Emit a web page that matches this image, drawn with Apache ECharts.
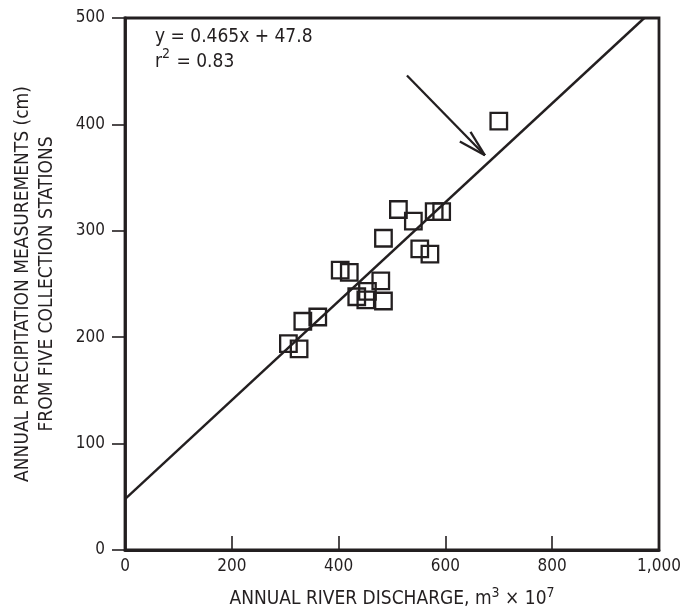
<!DOCTYPE html>
<html>
<head>
<meta charset="utf-8">
<script src="https://cdn.jsdelivr.net/npm/echarts@6/dist/echarts.min.js"></script>
<style>
html,body{margin:0;padding:0;background:#fff;}
#chart{width:695px;height:615px;}
</style>
</head>
<body>
<div id="chart"></div>
<script>
// Observations: annual river discharge (m^3 x 10^7) vs annual precipitation (cm)
const discharge = [512, 540, 579, 593, 484, 552, 571, 403, 420, 479, 454, 434, 451, 484, 361, 333, 306, 326, 700];
const precipitation = [320, 309, 318, 318, 293, 283, 278, 263, 261, 253, 243, 238, 235, 234, 219, 215, 194, 189, 403];
// Regression from the figure
const slope = 0.465;
const intercept = 47.8;
const xTicks = [0, 200, 400, 600, 800, 1000];
const yTicks = [0, 100, 200, 300, 400, 500];
// Annotation arrow (data units): shaft start, tip, two head ends
const arrowShaft = [[528, 446], [674, 371]];
const arrowHeadA = [[647, 393], [674, 371]];
const arrowHeadB = [[627, 384], [674, 371]];

const FONT = '"Liberation Sans Narrow", "DejaVu Sans Condensed", "Roboto Condensed", sans-serif';
const INK = '#231f20';

const points = discharge.map((x, i) => [x, precipitation[i]]);
const xEnd = (500 - intercept) / slope;
const regLine = [[0, intercept], [xEnd, slope * xEnd + intercept]];

const chart = echarts.init(document.getElementById('chart'), null, {renderer: 'canvas'});
chart.setOption({
  animation: false,
  grid: {left: 125, right: 36, top: 18, bottom: 65, show: true, borderColor: INK, borderWidth: 2.8, backgroundColor: 'transparent'},
  textStyle: {fontFamily: FONT},
  xAxis: {
    type: 'value', min: 0, max: 1000, interval: 200,
    axisLine: {show: true, onZero: false, lineStyle: {color: INK, width: 2.8}},
    axisTick: {show: true, inside: true, length: 14, lineStyle: {color: INK, width: 1.6}},
    splitLine: {show: false},
    axisLabel: {color: INK, fontSize: 17, fontFamily: FONT, margin: 8,
      formatter: v => v.toLocaleString('en-US')},
    name: '{t|ANNUAL RIVER DISCHARGE, m}{s|3}{t| × 10}{s|7}',
    nameLocation: 'middle', nameGap: 36,
    nameTextStyle: {color: INK, fontFamily: FONT, fontSize: 19,
      rich: {t: {fontSize: 19, fontFamily: FONT, color: INK, verticalAlign: 'bottom'},
             s: {fontSize: 14, fontFamily: FONT, color: INK, verticalAlign: 'top', padding: [0,0,9,0]}}}
  },
  yAxis: {
    type: 'value', min: 0, max: 500, interval: 100,
    axisLine: {show: true, onZero: false, lineStyle: {color: INK, width: 2.8}},
    axisTick: {show: true, inside: false, length: 13, lineStyle: {color: INK, width: 1.6}},
    splitLine: {show: false},
    axisLabel: {color: INK, fontSize: 17, fontFamily: FONT, margin: 20},
    name: 'ANNUAL PRECIPITATION MEASUREMENTS (cm)\nFROM FIVE COLLECTION STATIONS',
    nameLocation: 'middle', nameRotate: 90, nameGap: 66,
    nameTextStyle: {color: INK, fontFamily: FONT, fontSize: 19, lineHeight: 24, align: 'center'}
  },
  series: [
    {
      type: 'line', data: regLine, showSymbol: false, symbol: 'none',
      lineStyle: {color: INK, width: 2.4}, z: 2, silent: true
    },
    {
      type: 'scatter', data: points, symbol: 'rect', symbolSize: 16.5,
      itemStyle: {color: 'rgba(255,255,255,0)', borderColor: INK, borderWidth: 2.3, opacity: 1}, z: 3
    },
    {type: 'line', data: arrowShaft, symbol: 'none', lineStyle: {color: INK, width: 2.3}, silent: true},
    {type: 'line', data: arrowHeadA, symbol: 'none', lineStyle: {color: INK, width: 2.3}, silent: true},
    {type: 'line', data: arrowHeadB, symbol: 'none', lineStyle: {color: INK, width: 2.3}, silent: true}
  ],
  graphic: [
    {
      type: 'text', left: 155, top: 28,
      style: {
        text: '{t|y = 0.465x + 47.8}\n{t|r}{s|2}{t| = 0.83}',
        fill: INK, font: '19px ' + FONT,
        rich: {t: {fontSize: 19, fontFamily: FONT, fill: INK, lineHeight: 24.5, verticalAlign: 'bottom'},
               s: {fontSize: 14, fontFamily: FONT, fill: INK, verticalAlign: 'top', lineHeight: 24.5, padding: [0,1,10,0]}}
      }
    }
  ]
});
</script>
</body>
</html>
